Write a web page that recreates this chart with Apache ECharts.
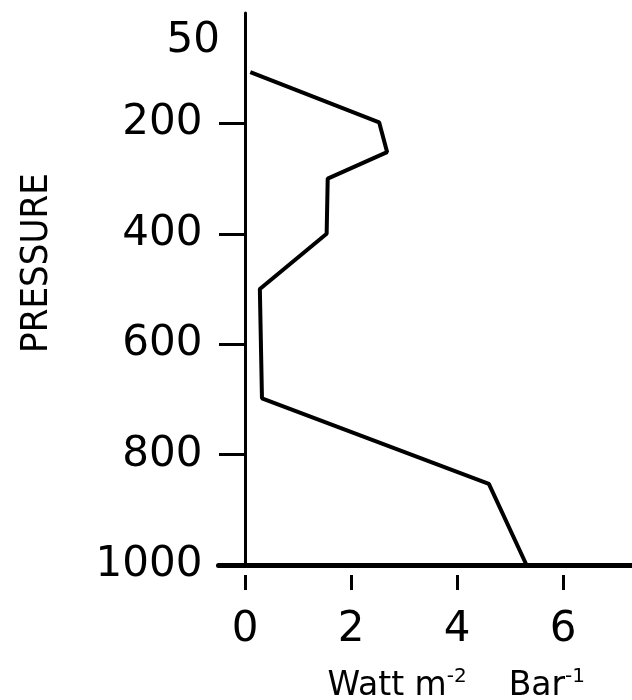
<!DOCTYPE html>
<html>
<head>
<meta charset="utf-8">
<script src="https://cdn.jsdelivr.net/npm/echarts@6/dist/echarts.min.js"></script>
<style>html,body{margin:0;padding:0;background:#fff}#c{width:632px;height:700px}</style>
</head>
<body>
<div id="c"></div>
<script>
// Data
const heating = [0.1, 2.53, 2.68, 1.56, 1.54, 0.28, 0.32, 4.6, 5.31];   // Watt m-2 Bar-1
const pressure = [107, 198, 252, 300, 400, 500, 698, 853, 1000];        // pressure level
const yTickLabels = [50, 200, 400, 600, 800, 1000];
const yTicks = [200, 400, 600, 800, 1000];
const xTicks = [0, 2, 4, 6];

const points = heating.map((v, i) => [v, pressure[i]]);
const FONT = 'DejaVu Sans';

const chart = echarts.init(document.getElementById('c'), null, {renderer: 'canvas'});
chart.setOption({
  backgroundColor: '#ffffff',
  animation: false,
  grid: {left: 218.5, right: 0, top: 13, bottom: 135, containLabel: false, outerBoundsMode: 'none'},
  xAxis: [
    {
      type: 'value', min: -0.5, max: 7.3, position: 'bottom',
      axisLine: {show: true, onZero: false, lineStyle: {color: '#000', width: 5}},
      axisTick: {show: false}, axisLabel: {show: false}, splitLine: {show: false}
    },
    {
      type: 'value', min: -0.5, max: 7.3, position: 'bottom', offset: 10,
      axisLine: {show: false, onZero: false},
      axisTick: {show: true, customValues: xTicks, length: 15, lineStyle: {color: '#000', width: 3}},
      axisLabel: {show: true, customValues: xTicks, margin: 34, color: '#000', fontSize: 42, fontFamily: FONT,
                  formatter: v => String(v)},
      splitLine: {show: false},
      name: '{n|Watt m}{s|-2}{n|    Bar}{s|-1}',
      nameLocation: 'middle', nameGap: 92,
      nameTextStyle: {
        padding: [0, 0, 0, 62],
        rich: {
          n: {fontSize: 33, fontFamily: FONT, color: '#000', lineHeight: 36, verticalAlign: 'bottom'},
          s: {fontSize: 20, fontFamily: FONT, color: '#000', lineHeight: 36, verticalAlign: 'top'}
        }
      }
    }
  ],
  yAxis: {
    type: 'value', min: 0, max: 1000, inverse: true,
    axisLine: {show: true, onZero: true, onZeroAxisIndex: 0, lineStyle: {color: '#000', width: 3}},
    axisTick: {show: true, customValues: yTicks, length: 26, lineStyle: {color: '#000', width: 3}},
    axisLabel: {show: true, customValues: yTickLabels, margin: 16, color: '#000',
                formatter: v => v === 50 ? '{t|' + v + '}' : '{d|' + v + '}',
                rich: {
                  d: {fontSize: 42, fontFamily: FONT, color: '#000'},
                  t: {fontSize: 42, fontFamily: FONT, color: '#000', width: 36, align: 'left'}
                }},
    splitLine: {show: false},
    name: 'PRESSURE', nameLocation: 'middle', nameGap: 162, nameRotate: 90,
    nameTextStyle: {color: '#000', fontSize: 38, fontFamily: "'DejaVu Sans Condensed', 'Liberation Sans Narrow', 'DejaVu Sans'", padding: [0, 0, 0, 52]}
  },
  series: [{
    type: 'line', xAxisIndex: 0, yAxisIndex: 0,
    data: points, symbol: 'none', smooth: false,
    lineStyle: {color: '#000', width: 4}
  }]
});
</script>
</body>
</html>
